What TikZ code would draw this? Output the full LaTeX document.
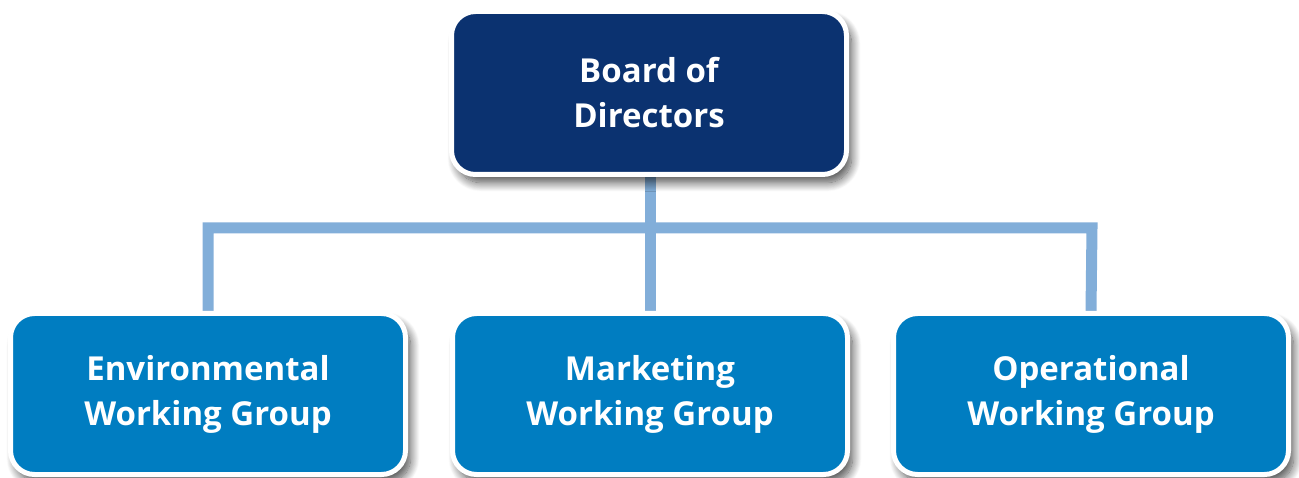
\documentclass[tikz,border=0pt]{standalone}
\usepackage{fontspec}
\setmainfont{Open Sans}
\usetikzlibrary{shadows.blur,backgrounds}
\definecolor{navy}{HTML}{0B3270}
\definecolor{wgblue}{HTML}{007DC1}
\definecolor{linkblue}{HTML}{82AED9}
\tikzset{
  orgbox/.style={rectangle, rounded corners=24pt, draw=white, line width=5pt,
    minimum width=395pt, align=center, text=white,
    font=\fontsize{33}{45}\selectfont\bfseries,
    blur shadow={shadow xshift=5pt, shadow yshift=-8pt, shadow blur radius=9pt, shadow blur steps=14, shadow opacity=70}},
  topbox/.style={orgbox, fill=navy, minimum height=163pt},
  wgbox/.style={orgbox, fill=wgblue, minimum height=161pt},
  link/.style={draw=linkblue, line width=11pt, line join=miter}
}
\begin{document}
\begin{tikzpicture}[x=1pt,y=-1pt]
\useasboundingbox (0,0) rectangle (1299,478);
\node[topbox] (board) at (649,93) {Board of\\Directors};
\node[wgbox] (env) at (208,394) {Environmental\\Working Group};
\node[wgbox] (mkt) at (650,394) {Marketing\\Working Group};
\node[wgbox] (ops) at (1091,394) {Operational\\Working Group};
\coordinate (hl) at (208,228);
\coordinate (hr) at (1092,228);
\begin{scope}[on background layer]
\draw[link] (board.south -| mkt.north) -- (mkt.north);
\draw[link] (env.north) -- (hl) -- (hr) -- (ops.north);
\end{scope}
\end{tikzpicture}
\end{document}
